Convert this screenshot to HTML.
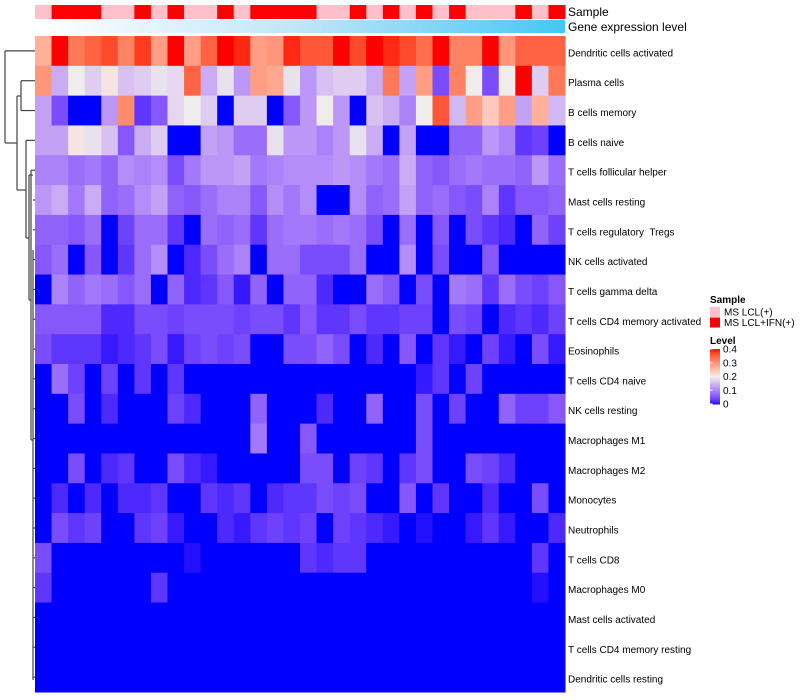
<!DOCTYPE html>
<html><head><meta charset="utf-8"><style>
html,body{margin:0;padding:0;background:#fff;}
svg{display:block;font-family:"Liberation Sans",sans-serif;}
text{white-space:pre;}
</style></head><body>
<svg id="chart" width="800" height="700" xmlns="http://www.w3.org/2000/svg"></svg>
<script>
const rowLabels=["Dendritic cells activated","Plasma cells","B cells memory","B cells naive","T cells follicular helper","Mast cells resting","T cells regulatory  Tregs","NK cells activated","T cells gamma delta","T cells CD4 memory activated","Eosinophils","T cells CD4 naive","NK cells resting","Macrophages M1","Macrophages M2","Monocytes","Neutrophils","T cells CD8","Macrophages M0","Mast cells activated","T cells CD4 memory resting","Dendritic cells resting"];
const sampleGroups=[0,1,1,1,0,0,1,0,1,0,0,1,0,1,1,1,1,0,0,1,0,1,0,1,0,1,0,0,0,1,0,1];
const sampleNames=["MS LCL(+)","MS LCL+IFN(+)"];
const levelTicks=[0,0.1,0.2,0.3,0.4];
const r0=[0.27,0.4,0.33,0.35,0.37,0.32,0.38,0.29,0.4,0.29,0.35,0.4,0.39,0.29,0.3,0.39,0.36,0.36,0.4,0.37,0.4,0.39,0.37,0.34,0.4,0.32,0.32,0.4,0.3,0.35,0.35,0.35];
const r1=[0.3,0.14,0.2,0.17,0.21,0.16,0.17,0.19,0.18,0.35,0.14,0.19,0.12,0.29,0.28,0.19,0.12,0.16,0.17,0.17,0.14,0.33,0.13,0.29,0.05,0.32,0.2,0.05,0.2,0.4,0.17,0.33];
const r2=[0.13,0.05,0,0,0.12,0.31,0.03,0.06,0.18,0.2,0.17,0,0.17,0.17,0,0.06,0.12,0.2,0.12,0,0.16,0.14,0.1,0.2,0.36,0.15,0.29,0.24,0.29,0.13,0.27,0.15];
const r3=[0.13,0.13,0.21,0.19,0.16,0.06,0.14,0.17,0,0,0.13,0.12,0.08,0.08,0.19,0.12,0.12,0.1,0.12,0.19,0.14,0,0.13,0,0,0.07,0.07,0.12,0.1,0.03,0.04,0];
const r4=[0.1,0.1,0.08,0.09,0.07,0.11,0.1,0.11,0.05,0.09,0.12,0.12,0.13,0.09,0.1,0.11,0.11,0.11,0.12,0.11,0.09,0.08,0.14,0.07,0.06,0.08,0.09,0.08,0.08,0.07,0.12,0.08];
const r5=[0.12,0.14,0.09,0.14,0.07,0.08,0.11,0.13,0.07,0.06,0.08,0.1,0.1,0.06,0.11,0.09,0.11,0,0,0.11,0.07,0.08,0.13,0.07,0.08,0.06,0.05,0.1,0.03,0.06,0.06,0.07];
const r6=[0.07,0.07,0.06,0.08,0,0.04,0.08,0.08,0.03,0,0.08,0.07,0.08,0.03,0.08,0.09,0.09,0.08,0.09,0.08,0.05,0,0.08,0,0.06,0,0.05,0.03,0.02,0,0.07,0.04];
const r7=[0.06,0.08,0,0.06,0,0.03,0.08,0.11,0,0.02,0.05,0.08,0.1,0,0.08,0.08,0.05,0.05,0.05,0.08,0,0,0.11,0,0.05,0,0,0.06,0,0,0,0];
const r8=[0,0.1,0.07,0.09,0.08,0.06,0.08,0,0.07,0.02,0.03,0.06,0.01,0.07,0,0.07,0.07,0.02,0,0,0.08,0.06,0,0.05,0,0.09,0.08,0.03,0.08,0.05,0.04,0.06];
const r9=[0.06,0.06,0.06,0.06,0.02,0.02,0.05,0.05,0.04,0.05,0.05,0.05,0.04,0.05,0.05,0.03,0.06,0.03,0.03,0.05,0.03,0.03,0.04,0.04,0,0.05,0.04,0,0.02,0.03,0.02,0.04];
const r10=[0.05,0.03,0.03,0.03,0.01,0.02,0.03,0.05,0.01,0.04,0.05,0.04,0.05,0,0,0.05,0.05,0.07,0.05,0,0.02,0,0.06,0,0.03,0.01,0,0.04,0.01,0,0.05,0.01];
const r11=[0,0.08,0.04,0,0.04,0,0.03,0,0.03,0,0,0,0,0,0,0,0,0,0,0,0,0,0,0.01,0.03,0,0.04,0,0,0,0,0];
const r12=[0,0,0.05,0,0.02,0,0,0,0.04,0.02,0,0,0,0.07,0,0,0,0.02,0,0,0.07,0,0,0.05,0,0.04,0,0,0.07,0.04,0.04,0.06];
const r13=[0,0,0,0,0,0,0,0,0,0,0,0,0,0.09,0,0,0.06,0,0,0,0,0,0,0.05,0,0,0,0,0,0,0,0];
const r14=[0,0,0.05,0,0.02,0.03,0,0,0.05,0.02,0.01,0,0,0,0,0,0.05,0.05,0,0.04,0.03,0,0.03,0.05,0,0,0.05,0.04,0.02,0,0,0];
const r15=[0,0.02,0,0.02,0,0.02,0.02,0.03,0,0,0.03,0.02,0.03,0,0.02,0.03,0.03,0.05,0.04,0.05,0,0,0.06,0,0.03,0,0,0.02,0,0,0.05,0];
const r16=[0,0.05,0.03,0.04,0,0,0.03,0.04,0.01,0,0,0.02,0.01,0.03,0.04,0.03,0.04,0,0.04,0.03,0.02,0.01,0,0.005,0,0,0.01,0.03,0.01,0,0,0.02];
const r17=[0.05,0,0,0,0,0,0,0,0,0.005,0,0,0,0,0,0,0.03,0.02,0.03,0.03,0,0,0,0,0,0,0,0,0,0,0.03,0];
const r18=[0.03,0,0,0,0,0,0,0.03,0,0,0,0,0,0,0,0,0,0,0,0,0,0,0,0,0,0,0,0,0,0,0.005,0];
const r19=[0,0,0,0,0,0,0,0,0,0,0,0,0,0,0,0,0,0,0,0,0,0,0,0,0,0,0,0,0,0,0,0];
const r20=[0,0,0,0,0,0,0,0,0,0,0,0,0,0,0,0,0,0,0,0,0,0,0,0,0,0,0,0,0,0,0,0];
const r21=[0,0,0,0,0,0,0,0,0,0,0,0,0,0,0,0,0,0,0,0,0,0,0,0,0,0,0,0,0,0,0,0];
const values=[r0,r1,r2,r3,r4,r5,r6,r7,r8,r9,r10,r11,r12,r13,r14,r15,r16,r17,r18,r19,r20,r21];

const NS="http://www.w3.org/2000/svg";
const svg=document.getElementById('chart');
const X0=35,X1=565,Y0=36,Y1=692;
const nCol=sampleGroups.length,nRow=rowLabels.length;
const cw=(X1-X0)/nCol,rh=(Y1-Y0)/nRow;
const xPos=i=>X0+i*cw;
const yPos=j=>Y0+j*rh;
function mk(t,a){const e=document.createElementNS(NS,t);for(const k in a)e.setAttribute(k,a[k]);svg.appendChild(e);return e;}
function toLin(c){c/=255;return c<=0.04045?c/12.92:Math.pow((c+0.055)/1.055,2.4);}
function fromLin(c){c=c<=0.0031308?12.92*c:1.055*Math.pow(c,1/2.4)-0.055;return Math.max(0,Math.min(255,Math.round(c*255)));}
function f(t){return t>0.008856?Math.cbrt(t):7.787*t+16/116;}
function fi(t){return t>0.206893?t*t*t:(t-16/116)/7.787;}
function rgb2lab(r,g,b){r=toLin(r);g=toLin(g);b=toLin(b);
const x=(0.4124*r+0.3576*g+0.1805*b)/0.95047,y=0.2126*r+0.7152*g+0.0722*b,z=(0.0193*r+0.1192*g+0.9505*b)/1.08883;
return [116*f(y)-16,500*(f(x)-f(y)),200*(f(y)-f(z))];}
function lab2rgb(L,a,bb){const fy=(L+16)/116,fx=fy+a/500,fz=fy-bb/200;
const x=fi(fx)*0.95047,y=fi(fy),z=fi(fz)*1.08883;
const r=3.2406*x-1.5372*y-0.4986*z,g=-0.9689*x+1.8758*y+0.0415*z,b=0.0557*x-0.2040*y+1.0570*z;
return 'rgb('+fromLin(r)+','+fromLin(g)+','+fromLin(b)+')';}
const labB=rgb2lab(0,0,255),labW=rgb2lab(240,236,236),labR=rgb2lab(255,0,0);
function color(v){v=Math.max(0,Math.min(0.4,v));let a,b,t;
if(v<=0.2){a=labB;b=labW;t=v/0.2;}else{a=labW;b=labR;t=(v-0.2)/0.2;}
return lab2rgb(a[0]+(b[0]-a[0])*t,a[1]+(b[1]-a[1])*t,a[2]+(b[2]-a[2])*t);}

const sampCols=["#FFC0CB","#FF0000"];
sampleGroups.forEach((g,i)=>{
const r=mk('rect',{x:xPos(i),y:5,width:cw+0.5,height:14,fill:sampCols[g]});


});
const defs=mk('defs',{});
defs.innerHTML='<linearGradient id="gexp" x1="0" x2="1"><stop offset="0" stop-color="#ffffff"/><stop offset="0.5" stop-color="#bfe6f8"/><stop offset="1" stop-color="#46c6f5"/></linearGradient>';
const gb=mk('rect',{x:X0,y:20,width:X1-X0,height:13,fill:'url(#gexp)'});


const t1=mk('text',{x:568,y:16,'font-size':12,fill:'#000'});t1.textContent='Sample';


const t2=mk('text',{x:568,y:31,'font-size':12,fill:'#000'});t2.textContent='Gene expression level';



values.forEach((row,j)=>{
row.forEach((v,i)=>{
const c=mk('rect',{x:xPos(i),y:yPos(j),width:cw+0.5,height:rh+0.5,fill:color(v)});


});
const lt=mk('text',{x:568,y:yPos(j)+rh/2+5.5,'font-size':10,fill:'#000'});
lt.textContent=rowLabels[j];


});

const yc=j=>yPos(j)+rh/2;
const dl=[
[5,yc(0),5,143],[5,yc(0),35,yc(0)],[5,143,17,143],
[17,96,17,190],[17,96,21,96],[21,yc(1),21,yc(2)],[21,yc(1),35,yc(1)],[21,yc(2),35,yc(2)],
[17,190,26,190],[26,yc(3),26,238],[26,yc(3),35,yc(3)],[26,238,29,238],
[29,175,29,300],[29,175,33,175],[29,300,31,300],[31,yc(4),31,440],[31,yc(4),35,yc(4)],
[31,440,33,440],[33,250,33,680]
];
const dg=mk('g',{stroke:'#444','stroke-width':1.2,fill:'none'});


dl.forEach(l=>{const e=document.createElementNS(NS,'line');e.setAttribute('x1',l[0]);e.setAttribute('y1',l[1]);e.setAttribute('x2',l[2]);e.setAttribute('y2',l[3]);dg.appendChild(e);});
for(let j=5;j<nRow;j++){const e=document.createElementNS(NS,'line');e.setAttribute('x1',33);e.setAttribute('y1',yc(j));e.setAttribute('x2',35);e.setAttribute('y2',yc(j));dg.appendChild(e);}

const lg1=mk('text',{x:710,y:303,'font-size':10,'font-weight':'bold'});lg1.textContent='Sample';


sampleNames.forEach((n,k)=>{
const s=mk('rect',{x:710,y:307+k*10.5,width:10,height:10,fill:sampCols[k]});


const t=mk('text',{x:724,y:315.5+k*10.5,'font-size':10});t.textContent=n;


});
const lg2=mk('text',{x:710,y:344,'font-size':10,'font-weight':'bold'});lg2.textContent='Level';


const by0=404,by1=349;
for(let k=0;k<55;k++){
const v=0.4*k/55;
const r=mk('rect',{x:710,y:by0-(k+1)*(by0-by1)/55,width:10,height:(by0-by1)/55+0.5,fill:color(v+0.2/55)});


}
levelTicks.forEach(t=>{
const y=by0-(by0-by1)*t/0.4;
const tl=mk('line',{x1:710,x2:712.5,y1:y,y2:y,stroke:'#fff','stroke-width':1});


const tx=mk('text',{x:723,y:y+3.5,'font-size':10});tx.textContent=String(t);


});
</script>
</body></html>
